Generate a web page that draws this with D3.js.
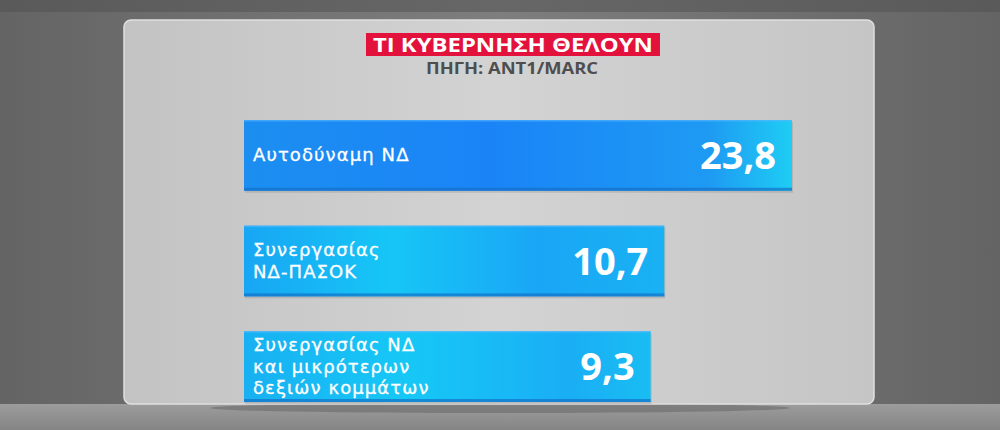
<!DOCTYPE html>
<html><head><meta charset="utf-8">
<script src="https://cdn.jsdelivr.net/npm/d3@7"></script>
<style>html,body{margin:0;padding:0;background:#666;}svg{display:block;}</style>
</head><body>
<svg id="chart" width="1000" height="430"></svg>
<script>
const title = "ΤΙ ΚΥΒΕΡΝΗΣΗ ΘΕΛΟΥΝ";
const source = "ΠΗΓΗ: ANT1/MARC";
const categories = [
  ["Αυτοδύναμη ΝΔ"],
  ["Συνεργασίας", "ΝΔ-ΠΑΣΟΚ"],
  ["Συνεργασίας ΝΔ", "και μικρότερων", "δεξιών κομμάτων"]
];
const values = [23.8, 10.7, 9.3];
const valueLabels = ["23,8", "10,7", "9,3"];

const svg = d3.select("#chart");
const W = 1000, H = 430;
const defs = svg.append("defs");

// background gradient
const bg = defs.append("linearGradient").attr("id","bg").attr("x1",0).attr("x2",1).attr("y1",0).attr("y2",0);
bg.append("stop").attr("offset",0).attr("stop-color","#646464");
bg.append("stop").attr("offset",0.5).attr("stop-color","#7e7e7e");
bg.append("stop").attr("offset",1).attr("stop-color","#646464");
svg.append("rect").attr("width",W).attr("height",H).attr("fill","url(#bg)");
svg.append("rect").attr("width",W).attr("height",12).attr("fill","#505050").attr("opacity",0.5);
// floor
const fl = defs.append("linearGradient").attr("id","floor").attr("x1",0).attr("x2",0).attr("y1",0).attr("y2",1);
fl.append("stop").attr("offset",0).attr("stop-color","#9c9c9c");
fl.append("stop").attr("offset",1).attr("stop-color","#858585");
svg.append("rect").attr("x",0).attr("y",404).attr("width",W).attr("height",26).attr("fill","url(#floor)");

// panel
const pg = defs.append("linearGradient").attr("id","panel").attr("x1",0).attr("x2",1).attr("y1",0).attr("y2",0);
pg.append("stop").attr("offset",0).attr("stop-color","#c3c3c3");
pg.append("stop").attr("offset",0.5).attr("stop-color","#d3d3d3");
pg.append("stop").attr("offset",1).attr("stop-color","#c5c5c5");
svg.append("ellipse").attr("cx",500).attr("cy",408).attr("rx",290).attr("ry",5).attr("fill","#4a4a4a").attr("opacity",0.35);
svg.append("rect").attr("x",124).attr("y",20).attr("width",750).attr("height",384).attr("rx",7)
  .attr("fill","url(#panel)").attr("stroke","#e0e0e0").attr("stroke-width",1.5);

// title
svg.append("rect").attr("x",366).attr("y",33).attr("width",294).attr("height",23).attr("fill","#e3123d");
svg.append("text").attr("x",513).attr("y",51.5).attr("text-anchor","middle")
  .attr("font-family","'Open Sans', sans-serif").attr("font-weight",700).attr("font-size",20)
  .attr("fill","#fff").attr("textLength",280).attr("lengthAdjust","spacingAndGlyphs").text(title);
svg.append("text").attr("x",512).attr("y",74).attr("text-anchor","middle")
  .attr("font-family","'Open Sans', sans-serif").attr("font-weight",700).attr("font-size",16)
  .attr("fill","#4e4e4e").attr("textLength",172).attr("lengthAdjust","spacingAndGlyphs").text(source);

// scales
const barLeft = 244;
const x = d3.scaleLinear().domain([0, 23.8]).range([barLeft + 316, barLeft + 548]);
const y = d3.scaleBand().domain(d3.range(values.length)).range([120, 402]).paddingInner(0.33).paddingOuter(0);

// bar gradients
const grads = [
  [["0","#1c8ef0"],["0.45","#1a84f7"],["0.85","#1e9af3"],["1","#1fcdf4"]],
  [["0","#18a6f4"],["0.35","#16c6f6"],["0.7","#1aa6f6"],["1","#19b2f3"]],
  [["0","#18b0f2"],["0.4","#16c8f6"],["0.8","#1aaef5"],["1","#19bdf2"]]
];
grads.forEach((g,i)=>{
  const lg = defs.append("linearGradient").attr("id","bar"+i).attr("x1",0).attr("x2",1).attr("y1",0).attr("y2",0);
  g.forEach(s=>lg.append("stop").attr("offset",s[0]).attr("stop-color",s[1]));
});

const bars = svg.append("g").selectAll("g").data(values).join("g");
bars.append("rect").attr("x",barLeft+1).attr("y",(d,i)=>y(i)+2).attr("width",d=>x(d)-barLeft).attr("height",y.bandwidth())
  .attr("fill","#777").attr("opacity",0.25);
bars.append("rect").attr("x",barLeft).attr("y",(d,i)=>y(i)).attr("width",d=>x(d)-barLeft).attr("height",y.bandwidth())
  .attr("fill",(d,i)=>"url(#bar"+i+")");
bars.append("rect").attr("x",barLeft).attr("y",(d,i)=>y(i)+y.bandwidth()-3).attr("width",d=>x(d)-barLeft).attr("height",3)
  .attr("fill","#1470c8").attr("opacity",0.7);
bars.append("rect").attr("x",barLeft).attr("y",(d,i)=>y(i)).attr("width",d=>x(d)-barLeft).attr("height",1.5)
  .attr("fill","#5ab8ff").attr("opacity",0.6);

bars.append("text").attr("x",d=>x(d)-16).attr("y",(d,i)=>y(i)+y.bandwidth()/2+13.5)
  .attr("text-anchor","end").attr("font-family","'Open Sans', sans-serif").attr("font-weight",700)
  .attr("font-size",38).attr("fill","#fff").text((d,i)=>valueLabels[i]);

bars.each(function(d,i){
  const lines = categories[i];
  const lh = 21.2;
  const cy = y(i)+y.bandwidth()/2;
  const g = d3.select(this);
  lines.forEach((l,j)=>{
    g.append("text").attr("font-family","'DejaVu Sans', sans-serif").attr("font-size",18)
      .attr("letter-spacing",1.1).attr("fill","#fff").attr("stroke","#fff").attr("stroke-width",0.3)
      .attr("x",barLeft+9).attr("y",cy + (j-(lines.length-1)/2)*lh + 6).text(l);
  });
});
</script>
</body></html>
